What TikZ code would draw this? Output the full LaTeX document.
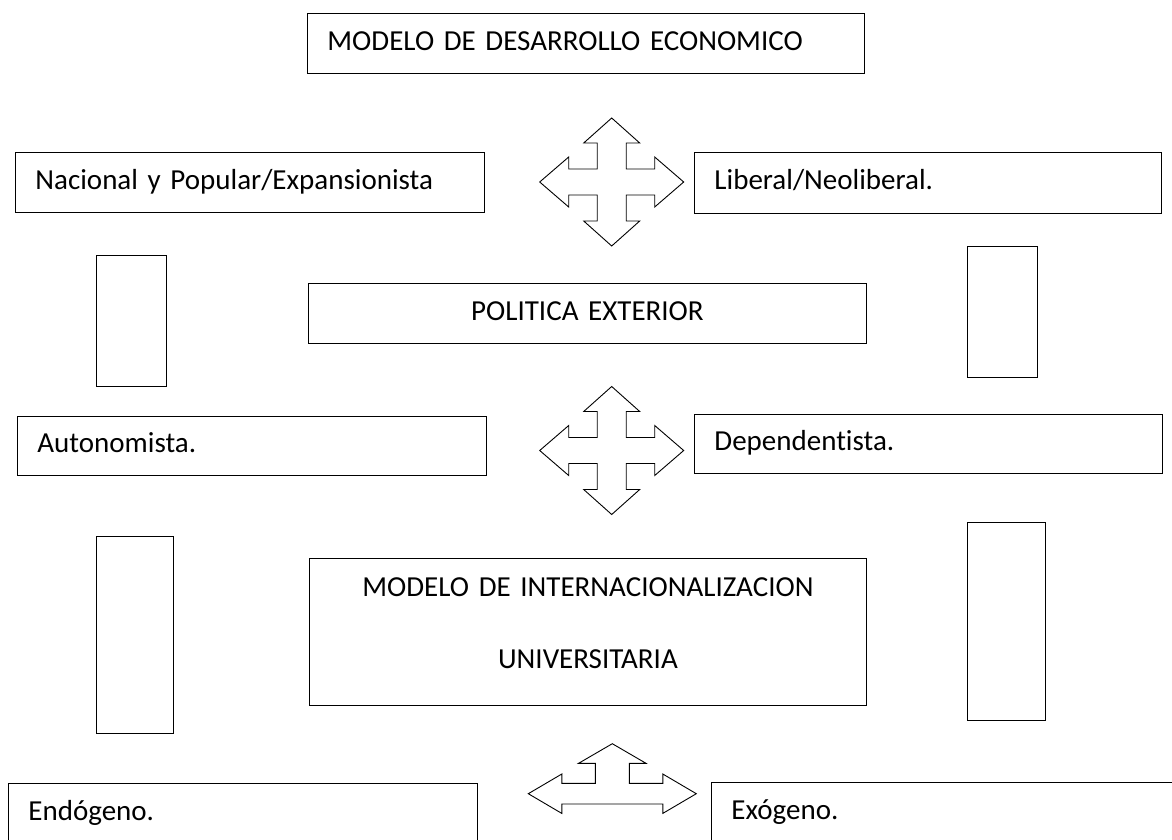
\documentclass[tikz,border=0pt]{standalone}
\usepackage{fontspec}
\setmainfont{Carlito}[Ligatures=NoCommon,Contextuals=NoAlternate]
\usetikzlibrary{calc}

\newcommand\boxfont{\fontsize{29}{35}\selectfont\spaceskip 6.3pt\relax}

\tikzset{
  quad arrow/.pic={
    \draw[block arrow] (0,-64) -- (28,-39) -- (14.5,-39) -- (14.5,-13) -- (43,-13) -- (43,-25)
      -- (72,0) -- (43,25) -- (43,13) -- (14.5,13) -- (14.5,39) -- (28,39)
      -- (0,64) -- (-28,39) -- (-14.5,39) -- (-14.5,13) -- (-43,13) -- (-43,25)
      -- (-72,0) -- (-43,-25) -- (-43,-13) -- (-14.5,-13) -- (-14.5,-39) -- (-28,-39) -- cycle;
  },
  tri arrow/.pic={
    \draw[block arrow] (0,-50) -- (33.7,-30.4) -- (17,-30.4) -- (17,-10.3) -- (50.5,-10.3) -- (50.5,-19.7)
      -- (84,0) -- (50.5,19.7) -- (50.5,10.3) -- (-50.5,10.3) -- (-50.5,19.7)
      -- (-84,0) -- (-50.5,-19.7) -- (-50.5,-10.3) -- (-17,-10.3) -- (-17,-30.4) -- (-33.7,-30.4) -- cycle;
  }
}

\begin{document}
\begin{tikzpicture}[x=1pt,y=-1pt,
  block arrow/.style={draw,line width=0.9pt,line join=miter},
  main box/.style={draw,line width=0.9pt,anchor=north west,inner xsep=20pt,inner ysep=0pt,
    align=left,font=\boxfont,text height=20pt,text depth=6pt},
  tall box/.style={draw,line width=0.9pt,anchor=north west,inner sep=0pt}]

\clip (0,0) rectangle (1172,840);
\fill[white] (0,0) rectangle (1172,840);

% first level
\node[main box,text width=517pt,minimum height=60pt](econ) at (307,13) {MODELO DE DESARROLLO ECONOMICO};
\node[main box,text width=429pt,minimum height=60pt](nacional) at (15,152) {Nacional y Popular/Expansionista};
\node[main box,text width=427pt,minimum height=61pt](liberal) at (694,152) {Liberal/Neoliberal.};
\coordinate (cross1) at (611.7,182);
\pic at (cross1) {quad arrow};

% second level
\node[tall box,minimum width=70pt,minimum height=131pt](barL1) at (96,255) {};
\node[tall box,minimum width=70pt,minimum height=131pt](barR1) at (967,246) {};
\node[main box,align=center,text width=518pt,minimum height=60pt](politica) at (308,283) {POLITICA EXTERIOR};
\node[main box,text width=429pt,minimum height=59pt](autonom) at (17,416) {Autonomista.};
\node[main box,text width=428pt,minimum height=59pt](depend) at (694,414) {Dependent\kern0pt ista.};
\coordinate (cross2) at (611.7,450.5);
\pic at (cross2) {quad arrow};

% third level
\node[tall box,minimum width=77pt,minimum height=197pt](barL2) at (96,536) {};
\node[tall box,minimum width=78pt,minimum height=198pt](barR2) at (967,522) {};
\node[main box,align=center,text width=517pt,minimum height=147pt,text depth=91pt](interna) at (309,558)
  {MODELO DE INTERNACIONALIZACION\\[37pt]UNIVERSITARIA};
\node[main box,text width=429pt,minimum height=80pt,text depth=26pt](endo) at (8,783) {Endógeno.};
\node[main box,text width=440pt,minimum height=80pt,text depth=26pt](exo) at (711,782) {Exógeno.};
\coordinate (cross3) at (612.3,793.7);
\pic at (cross3) {tri arrow};
\end{tikzpicture}
\end{document}
